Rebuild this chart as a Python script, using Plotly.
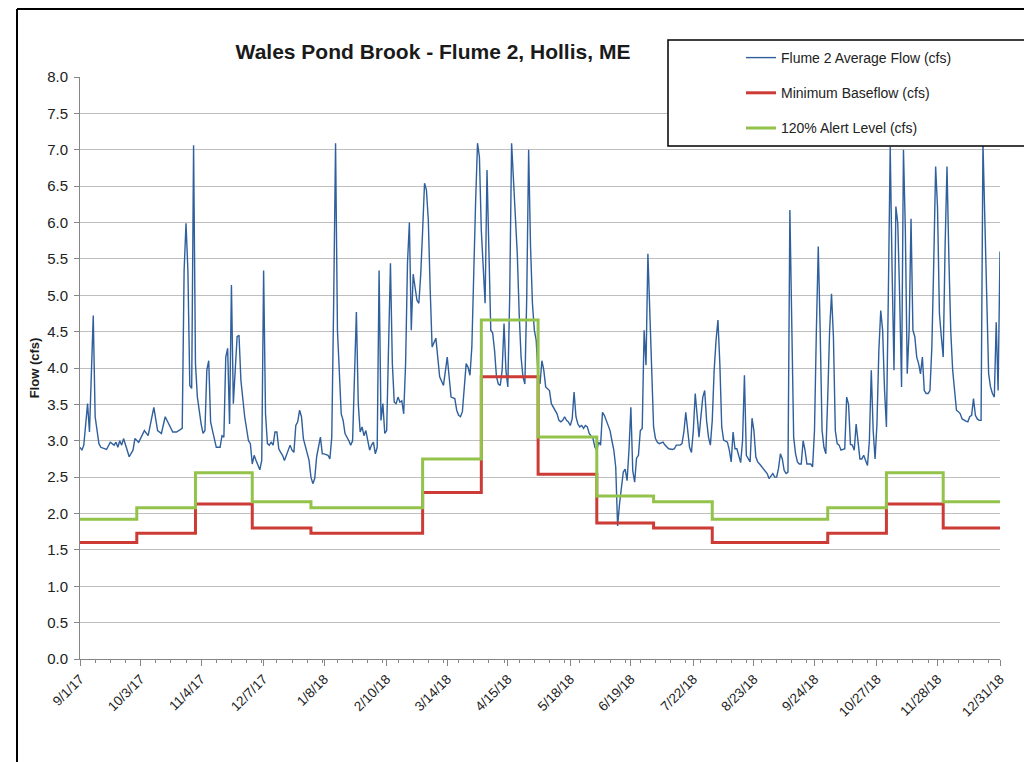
import pandas as pd
import plotly.graph_objects as go

# ---------------- data ----------------
start_date = pd.Timestamp("2017-09-01")

flow_day = [0, 1, 2, 4, 5, 7, 8, 10, 11, 14, 16, 18, 19, 20, 21, 22, 23, 25, 26, 28, 29, 31, 33, 34, 36, 39, 41, 43, 45, 47,
            48, 49, 51, 54, 55, 56, 57, 58, 59, 60, 61, 62, 64, 65, 66, 67, 68, 69, 70, 71, 72, 74, 75, 76, 77, 78, 79, 80, 81, 83,
            84, 85, 87, 89, 90, 91, 92, 93, 95, 96, 97, 98, 99, 100, 101, 102, 103, 104, 105, 106, 107, 108, 110, 111, 112, 113, 114, 115, 116, 117,
            118, 119, 121, 122, 123, 124, 125, 127, 128, 129, 131, 132, 133, 134, 135, 136, 138, 139, 140, 142, 143, 144, 145, 146, 147, 148, 149, 150, 151, 153,
            154, 155, 156, 157, 158, 159, 160, 161, 162, 163, 164, 165, 166, 167, 168, 169, 170, 171, 172, 173, 174, 175, 176, 177, 178, 179, 180, 181, 182, 183,
            184, 185, 186, 188, 189, 190, 192, 193, 194, 195, 196, 198, 199, 200, 201, 202, 203, 204, 205, 206, 207, 208, 209, 210, 211, 212, 213, 214, 215, 216,
            217, 218, 219, 220, 221, 222, 223, 224, 225, 226, 227, 228, 229, 231, 232, 233, 234, 235, 236, 237, 238, 239, 240, 241, 242, 243, 244, 245, 246, 248,
            249, 251, 252, 253, 254, 255, 256, 257, 258, 259, 260, 261, 262, 263, 264, 265, 266, 267, 268, 269, 271, 272, 273, 274, 275, 276, 277, 278, 280, 281,
            282, 283, 284, 285, 286, 287, 288, 289, 290, 291, 292, 293, 294, 295, 296, 297, 298, 299, 300, 301, 302, 303, 304, 305, 306, 308, 309, 310, 311, 313,
            314, 315, 317, 318, 319, 320, 321, 322, 323, 324, 325, 326, 327, 328, 329, 330, 331, 332, 333, 334, 335, 336, 337, 338, 339, 340, 342, 343, 344, 345,
            346, 347, 348, 349, 350, 351, 352, 354, 355, 356, 357, 358, 359, 361, 362, 363, 364, 365, 366, 367, 368, 369, 370, 371, 372, 373, 374, 375, 376, 377,
            378, 379, 380, 381, 382, 383, 384, 385, 386, 387, 388, 389, 390, 391, 392, 393, 394, 395, 396, 397, 398, 399, 400, 401, 402, 404, 405, 406, 407, 408,
            409, 410, 411, 412, 413, 414, 415, 416, 417, 418, 419, 420, 421, 422, 423, 424, 425, 426, 427, 428, 429, 430, 431, 432, 433, 434, 435, 436, 437, 438,
            439, 440, 441, 442, 443, 444, 445, 446, 447, 448, 449, 450, 451, 452, 453, 454, 455, 456, 457, 458, 459, 460, 461, 462, 463, 464, 465, 466, 467, 468,
            469, 470, 471, 472, 473, 474, 475, 476, 477, 478, 479, 480, 481, 482, 483, 484, 485, 486]

flow_cfs = [2.91, 2.87, 2.94, 3.51, 3.12, 4.72, 3.33, 2.96, 2.91, 2.88, 2.98, 2.94, 2.98, 2.91, 3.00, 2.94, 3.03, 2.84, 2.78, 2.87, 3.03, 2.98, 3.10, 3.14, 3.07, 3.46, 3.14, 3.10, 3.33, 3.23,
            3.19, 3.12, 3.12, 3.17, 5.34, 5.99, 5.34, 3.76, 3.72, 7.06, 4.06, 3.60, 3.23, 3.10, 3.14, 3.97, 4.10, 3.26, 3.14, 3.00, 2.91, 2.91, 3.07, 3.05, 4.15, 4.27, 3.23, 5.14, 3.51, 4.43,
            4.45, 3.83, 3.33, 3.00, 2.96, 2.68, 2.80, 2.73, 2.60, 2.73, 5.34, 3.37, 2.96, 2.94, 2.98, 2.94, 3.12, 3.12, 2.89, 2.84, 2.80, 2.73, 2.89, 2.94, 2.87, 2.84, 3.21, 3.26, 3.42, 3.33,
            3.03, 2.94, 2.73, 2.50, 2.41, 2.48, 2.78, 3.05, 2.82, 2.82, 2.80, 2.75, 3.05, 4.89, 7.09, 4.52, 3.37, 3.28, 3.10, 3.00, 2.94, 3.00, 4.06, 4.77, 3.51, 3.12, 3.19, 3.07, 3.14, 2.87,
            2.94, 2.98, 2.82, 2.91, 5.34, 3.28, 3.51, 3.10, 3.14, 4.29, 5.44, 4.06, 3.53, 3.51, 3.60, 3.53, 3.55, 3.37, 4.06, 5.44, 6.00, 4.52, 5.29, 5.11, 4.93, 4.89, 5.29, 5.89, 6.54, 6.45,
            6.03, 5.07, 4.29, 4.41, 4.15, 3.88, 3.76, 3.97, 4.15, 3.88, 3.60, 3.58, 3.42, 3.35, 3.33, 3.40, 3.69, 4.06, 4.01, 3.90, 4.29, 5.44, 6.30, 7.09, 6.90, 5.89, 5.30, 4.89, 6.72, 5.44,
            4.52, 4.48, 4.24, 3.88, 3.78, 3.76, 3.97, 4.61, 3.97, 3.74, 5.00, 7.09, 6.58, 5.57, 4.75, 4.15, 3.88, 3.78, 4.98, 7.00, 5.67, 4.89, 4.52, 4.38, 3.88, 3.78, 4.10, 3.97, 3.74, 3.69,
            3.51, 3.42, 3.37, 3.28, 3.26, 3.28, 3.33, 3.28, 3.26, 3.21, 3.30, 3.67, 3.33, 3.23, 3.19, 3.21, 3.17, 3.21, 3.19, 3.10, 3.03, 2.91, 2.87, 2.98, 2.94, 3.39, 3.35, 3.28, 3.14, 3.00,
            2.87, 2.64, 1.83, 2.13, 2.36, 2.57, 2.61, 2.45, 2.87, 3.46, 2.59, 2.43, 2.76, 2.80, 3.14, 3.17, 4.52, 4.04, 5.57, 4.80, 3.83, 3.19, 3.03, 2.98, 2.96, 2.98, 2.94, 2.91, 2.89, 2.88,
            2.89, 2.94, 2.94, 2.96, 3.12, 3.39, 3.14, 2.91, 2.84, 3.14, 3.65, 3.33, 3.05, 3.33, 3.60, 3.69, 3.28, 3.05, 2.94, 3.28, 3.97, 4.38, 4.66, 4.06, 3.19, 3.01, 2.98, 2.87, 2.71, 3.12,
            2.89, 2.89, 2.80, 2.70, 3.00, 3.90, 2.80, 2.71, 3.31, 3.14, 2.78, 2.71, 2.68, 2.62, 2.59, 2.55, 2.48, 2.52, 2.55, 2.50, 2.50, 2.62, 2.82, 2.75, 2.59, 2.55, 2.57, 6.17, 4.52, 3.05,
            2.82, 2.71, 2.68, 2.68, 3.00, 2.87, 2.68, 2.68, 2.68, 2.64, 3.14, 4.52, 5.67, 4.52, 3.14, 2.91, 2.82, 3.60, 4.52, 5.02, 4.43, 3.14, 2.96, 2.94, 2.87, 2.89, 3.60, 3.50, 2.95, 2.94,
            2.87, 3.23, 2.98, 2.75, 2.75, 2.80, 2.73, 2.66, 3.00, 3.97, 3.14, 2.75, 3.23, 4.24, 4.79, 4.52, 3.70, 3.19, 4.98, 7.04, 5.34, 3.97, 6.22, 5.99, 4.98, 3.74, 7.00, 5.89, 3.92, 4.52,
            6.05, 4.52, 4.43, 4.15, 4.06, 3.92, 4.15, 3.69, 3.65, 3.65, 3.69, 4.29, 5.44, 6.77, 6.20, 4.75, 4.43, 4.15, 5.67, 6.77, 5.50, 4.50, 3.97, 3.69, 3.42, 3.40, 3.37, 3.30, 3.28, 3.27,
            3.26, 3.33, 3.35, 3.58, 3.35, 3.30, 3.28, 3.28, 7.09, 5.89, 4.75, 3.92, 3.74, 3.65, 3.60, 4.63, 3.69, 5.60]

step_dates = ["2017-09-01", "2017-10-01", "2017-11-01", "2017-12-01", "2018-01-01", "2018-02-01",
              "2018-03-01", "2018-04-01", "2018-05-01", "2018-06-01", "2018-07-01", "2018-08-01",
              "2018-09-01", "2018-10-01", "2018-11-01", "2018-12-01", "2018-12-31"]
baseflow_cfs = [1.60, 1.73, 2.13, 1.80, 1.73, 1.73, 2.29, 3.88, 2.54, 1.87, 1.80, 1.60, 1.60, 1.73, 2.13, 1.80, 1.80]
alert_cfs = [1.92, 2.08, 2.56, 2.16, 2.08, 2.08, 2.75, 4.66, 3.05, 2.24, 2.16, 1.92, 1.92, 2.08, 2.56, 2.16, 2.16]

tick_dates = ["2017-09-01", "2017-10-03", "2017-11-04", "2017-12-07", "2018-01-08", "2018-02-10",
              "2018-03-14", "2018-04-15", "2018-05-18", "2018-06-19", "2018-07-22", "2018-08-23",
              "2018-09-24", "2018-10-27", "2018-11-28", "2018-12-31"]
tick_labels = ["9/1/17", "10/3/17", "11/4/17", "12/7/17", "1/8/18", "2/10/18", "3/14/18", "4/15/18",
               "5/18/18", "6/19/18", "7/22/18", "8/23/18", "9/24/18", "10/27/18", "11/28/18", "12/31/18"]

flow_dates = start_date + pd.to_timedelta(flow_day, unit="D")

# ---------------- figure ----------------
FONT = "Liberation Sans, Arial, sans-serif"
AXIS = "#868686"
GRID = "#bfbfbf"
# the page body has an 8px margin, so the figure is 8px smaller than the window
FIG_W, FIG_H = 1024, 754
OFF = 8

fig = go.Figure()
fig.add_trace(go.Scatter(x=flow_dates, y=flow_cfs, mode="lines", name="Flume 2 Average Flow (cfs)",
                         line=dict(color="#2f5f9c", width=1.4), legendgroup="a"))
fig.add_trace(go.Scatter(x=pd.to_datetime(step_dates), y=baseflow_cfs, mode="lines", name="Minimum Baseflow (cfs)",
                         line=dict(color="#cc3b35", width=3, shape="hv"), legendgroup="b"))
fig.add_trace(go.Scatter(x=pd.to_datetime(step_dates), y=alert_cfs, mode="lines", name="120% Alert Level (cfs)",
                         line=dict(color="#93c34b", width=3, shape="hv"), legendgroup="c"))

# page-pixel -> paper coordinates (plot area spans page x 80..1000, y 77..659)
def px_x(p):
    return (p - 80) / 920.0

def px_y(p):
    return (659 - p) / 582.0

shapes = [
    # legend box
    dict(type="rect", xref="paper", yref="paper", x0=px_x(668), x1=px_x(1028), y0=px_y(146), y1=px_y(40),
         line=dict(color="black", width=1.5), fillcolor="white", layer="above"),
    # outer frame (left & top)
    dict(type="line", xref="paper", yref="paper", x0=px_x(17), x1=px_x(17), y0=px_y(9), y1=px_y(770),
         line=dict(color="black", width=2)),
    dict(type="line", xref="paper", yref="paper", x0=px_x(17), x1=px_x(1040), y0=px_y(9), y1=px_y(9),
         line=dict(color="black", width=2)),
]

fig.update_layout(
    width=FIG_W, height=FIG_H,
    margin=dict(l=80 - OFF, r=32, t=77 - OFF, b=103, pad=0),
    paper_bgcolor="white", plot_bgcolor="white",
    font=dict(family=FONT, size=12, color="#222222"),
    title=dict(text="<b>Wales Pond Brook - Flume 2, Hollis, ME</b>", x=px_x(433), xref="paper", xanchor="center",
               y=1 - (52 - OFF) / FIG_H, yref="container", yanchor="middle",
               font=dict(family=FONT, size=21, color="#1a1a1a")),
    showlegend=True,
    legend=dict(x=px_x(741), y=px_y(42), xanchor="left", yanchor="top", xref="paper", yref="paper",
                bgcolor="rgba(0,0,0,0)", borderwidth=0, tracegroupgap=14,
                font=dict(family=FONT, size=14, color="#222222")),
    shapes=shapes,
)

fig.update_xaxes(
    type="date",
    range=[start_date, pd.Timestamp("2018-12-31")],
    tickmode="array", tickvals=pd.to_datetime(tick_dates), ticktext=tick_labels,
    tickangle=-45, ticks="outside", ticklen=6, tickcolor=AXIS, tickwidth=1,
    showline=True, linecolor=AXIS, linewidth=1, showgrid=False, zeroline=False,
    tickfont=dict(family=FONT, size=13.5, color="#222222"),
    minor=dict(ticks="outside", ticklen=3, tickcolor=AXIS, dtick=8 * 86400000, tick0="2017-09-01", showgrid=False),
)
fig.update_yaxes(
    range=[0, 8], dtick=0.5, tick0=0, tickformat=".1f",
    ticks="outside", ticklen=5, tickcolor=AXIS,
    showline=True, linecolor=AXIS, linewidth=1,
    showgrid=True, gridcolor=GRID, gridwidth=1, zeroline=False,
    ticklabelstandoff=3,
    tickfont=dict(family=FONT, size=15, color="#222222"),
    title=dict(text="<b>Flow (cfs)</b>", font=dict(family=FONT, size=13, color="#1a1a1a"), standoff=4),
)

fig.write_html("out.html")
